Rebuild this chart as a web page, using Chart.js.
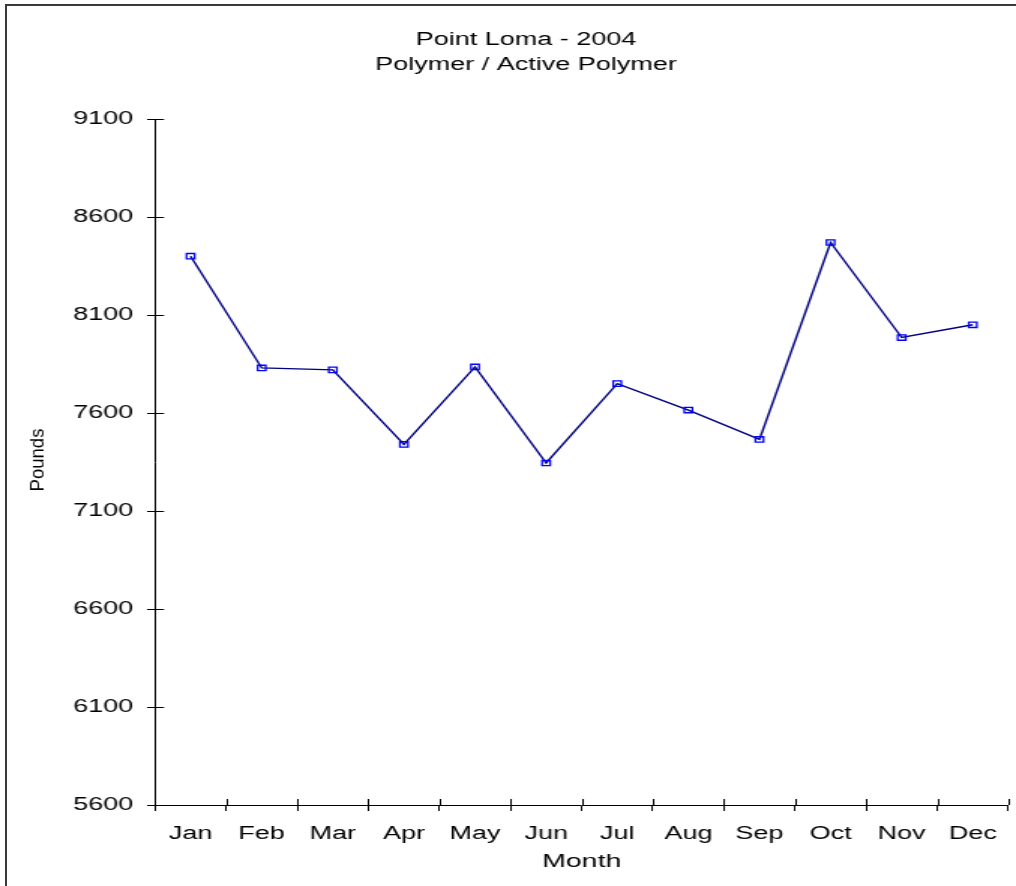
<!DOCTYPE html>
<html>
<head>
<meta charset="utf-8">
<script src="https://cdn.jsdelivr.net/npm/chart.js@4.4.1/dist/chart.umd.min.js"></script>
<style>
  html, body { margin: 0; padding: 0; background: #ffffff; width: 1016px; height: 886px; overflow: hidden; }
  #frame { position: absolute; left: 5px; top: 4px; width: 1100px; height: 1000px;
           border-left: 2px solid #3a3a3a; border-top: 2px solid #3a3a3a; box-sizing: border-box; }
  #c { position: absolute; left: 0; top: 0; width: 1016px; height: 886px; }
</style>
</head>
<body>
<div id="frame"></div>
<canvas id="c" width="677" height="886" style="width:1016px;height:886px;"></canvas>
<script>
// ---- data ----
const titleLines = ['Point Loma - 2004', 'Polymer / Active Polymer'];
const months = ['Jan', 'Feb', 'Mar', 'Apr', 'May', 'Jun', 'Jul', 'Aug', 'Sep', 'Oct', 'Nov', 'Dec'];
const pounds = [8400, 7830, 7820, 7440, 7835, 7345, 7750, 7615, 7465, 8470, 7985, 8050];
const yMin = 5600;
const yMax = 9100;
const yStep = 500;
const xTitle = 'Month';
const yTitle = 'Pounds';

const FONT = 'Arial, "Liberation Sans", sans-serif';

// inward tick marks + rotated y title
const extrasPlugin = {
  id: 'extras',
  afterDraw(chart) {
    const ctx = chart.ctx;
    const xs = chart.scales.x, ys = chart.scales.y;
    const ca = chart.chartArea;
    ctx.save();
    ctx.strokeStyle = '#000';
    ctx.lineWidth = 1;
    ctx.beginPath();
    for (let i = 0; i <= months.length; i++) {
      const x = Math.round(xs.getPixelForValue(i - 0.5)) + 0.5;
      ctx.moveTo(x, ca.bottom);
      ctx.lineTo(x, ca.bottom - 6);
    }
    ys.ticks.forEach(t => {
      const y = Math.round(ys.getPixelForValue(t.value)) + 0.5;
      ctx.moveTo(ca.left, y);
      ctx.lineTo(ca.left + 6, y);
    });
    ctx.stroke();
    // y axis title
    ctx.translate(26, (ca.top + ca.bottom) / 2 - 2);
    ctx.rotate(-Math.PI / 2);
    ctx.scale(1.03, 0.68);
    ctx.fillStyle = '#000';
    ctx.font = '18px ' + FONT;
    ctx.textAlign = 'center';
    ctx.textBaseline = 'middle';
    ctx.fillText(yTitle, 0, 0);
    ctx.restore();
  }
};

new Chart(document.getElementById('c'), {
  type: 'line',
  data: {
    labels: months,
    datasets: [{
      data: pounds,
      borderColor: '#000080',
      borderWidth: 1.4,
      tension: 0,
      fill: false,
      pointStyle: 'rect',
      pointRadius: 3.8,
      pointHoverRadius: 3.8,
      pointBorderColor: '#0000ff',
      pointBorderWidth: 1.3,
      pointBackgroundColor: 'rgba(0,0,0,0)'
    }]
  },
  options: {
    responsive: false,
    animation: false,
    events: [],
    layout: { padding: { left: 27.7, right: 3.7, top: 0, bottom: 0 } },
    plugins: {
      legend: { display: false },
      tooltip: { enabled: false },
      title: {
        display: true,
        text: titleLines,
        color: '#000',
        font: { family: FONT, size: 18, weight: 'normal', lineHeight: 1.4 },
        padding: { top: 27.7, bottom: 40.9 }
      }
    },
    scales: {
      x: {
        type: 'category',
        offset: true,
        grid: { display: true, offset: true, drawOnChartArea: false, drawTicks: true, tickLength: 6, color: '#000', tickWidth: 1 },
        border: { display: true, color: '#000', width: 1 },
        ticks: { color: '#000', padding: 12.4, maxRotation: 0, autoSkip: false, font: { family: FONT, size: 18 } },
        title: { display: true, text: xTitle, color: '#000', font: { family: FONT, size: 19 }, padding: { top: 0, bottom: 12.5 } },
        afterFit(scale) { scale.height = 81; }
      },
      y: {
        min: yMin,
        max: yMax,
        grid: { display: true, drawOnChartArea: false, drawTicks: true, tickLength: 5.3, color: '#000', tickWidth: 1 },
        border: { display: true, color: '#000', width: 1 },
        ticks: { stepSize: yStep, color: '#000', padding: 9.3, font: { family: FONT, size: 18 },
                 callback: (v) => String(v) },
        afterFit(scale) { scale.width = 75.6; }
      }
    }
  },
  plugins: [extrasPlugin]
});
</script>
</body>
</html>
